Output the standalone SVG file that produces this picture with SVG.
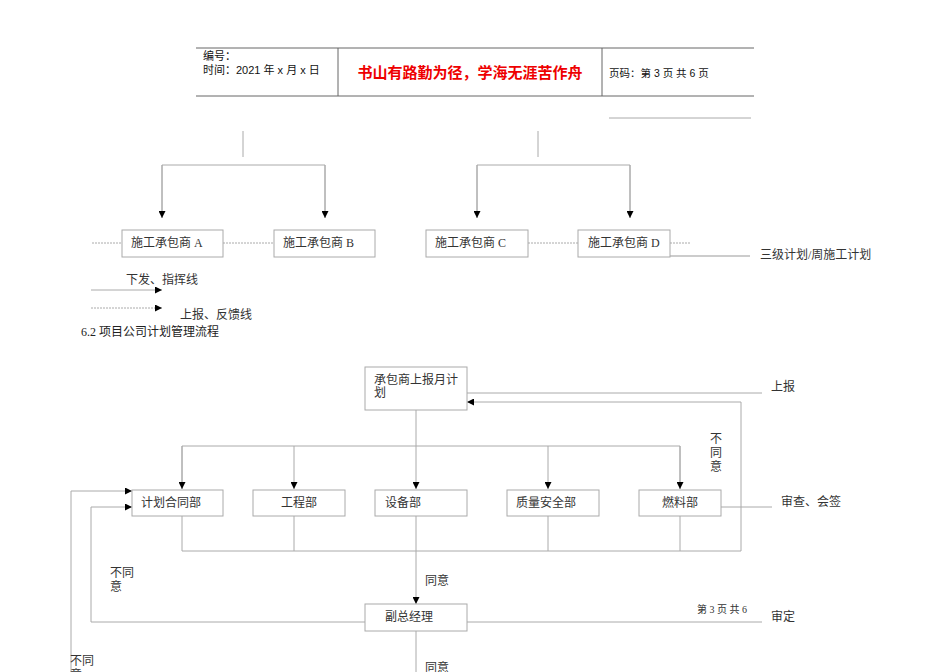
<svg xmlns="http://www.w3.org/2000/svg" width="950" height="672" viewBox="0 0 950 672">
<defs>
<marker id="ah" viewBox="0 0 10 10" refX="10" refY="5" markerWidth="7" markerHeight="7" orient="auto" markerUnits="userSpaceOnUse"><path d="M0,0 L10,5 L0,10 z" fill="#000"/></marker>
</defs>
<style>
text{font-family:"Liberation Serif","Noto Sans CJK SC",serif;font-size:12px;fill:#333}
.s{font-family:"Liberation Sans","Noto Sans CJK SC",sans-serif;font-size:11px;fill:#111}
.b{fill:#fff;stroke:#aaa;stroke-width:1}
.l{fill:none;stroke:#aaa;stroke-width:1}
.d{fill:none;stroke:#aaa;stroke-width:1;stroke-dasharray:2,1}
.h{fill:none;stroke:#666;stroke-width:1}
</style>
<rect width="950" height="672" fill="#fff"/>
<g id="header">
<path class="h" d="M196,48H754M196,96H754M338,48V96M602,48V96"/>
<text class="s" x="203" y="60">编号：</text>
<text class="s" x="203" y="74">时间：2021 年 x 月 x 日</text>
<text x="470" y="78" text-anchor="middle" style="font-family:'Liberation Sans','Noto Sans CJK SC',sans-serif;font-size:15px;font-weight:bold;fill:#e00">书山有路勤为径，学海无涯苦作舟</text>
<text class="s" x="609" y="77" style="font-size:10.5px">页码：第 3 页  共 6 页</text>
<path class="l" d="M609,118H751"/>
</g>
<g id="connectors">
<path class="l" d="M243,131V157M538,131V157"/>
<path class="l" d="M162,218V165H325V218" />
<path class="l" d="M162,165V218" marker-end="url(#ah)"/>
<path class="l" d="M325,165V218" marker-end="url(#ah)"/>
<path class="l" d="M477,218V165H630V218"/>
<path class="l" d="M477,165V218" marker-end="url(#ah)"/>
<path class="l" d="M630,165V218" marker-end="url(#ah)"/>
<path class="d" d="M92,243H122M223,243H274M528,243H578M670,243H690"/>
<path d="M670,256H750" stroke="#ccc" stroke-width="2" fill="none"/>
<path class="l" d="M91,290H162" marker-end="url(#ah)"/>
<path class="d" d="M91,308H162" marker-end="url(#ah)"/>
<path class="l" d="M467,393H762"/>
<path class="l" d="M741,551V402H467" marker-end="url(#ah)"/>
<path class="l" d="M416,410V489" marker-end="url(#ah)"/>
<path class="l" d="M182,489V446H680V489"/>
<path class="l" d="M182,446V489" marker-end="url(#ah)"/>
<path class="l" d="M294,446V489" marker-end="url(#ah)"/>
<path class="l" d="M548,446V489" marker-end="url(#ah)"/>
<path class="l" d="M680,446V489" marker-end="url(#ah)"/>
<path class="l" d="M721,507H772"/>
<path class="l" d="M182,516V551H741M294,516V551M548,516V551M680,516V551"/>
<path class="l" d="M416,516V604" marker-end="url(#ah)"/>
<path class="l" d="M365,622H91V507H132" marker-end="url(#ah)"/>
<path class="l" d="M467,622H762"/>
<path class="l" d="M71,672V491H132" marker-end="url(#ah)"/>
<path class="l" d="M416,631V672"/>
</g>
<g id="nA"><rect class="b" x="122" y="230" width="101" height="27"/><text x="131" y="247">施工承包商 A</text></g>
<g id="nB"><rect class="b" x="274" y="230" width="101" height="27"/><text x="283" y="247">施工承包商 B</text></g>
<g id="nC"><rect class="b" x="426" y="230" width="102" height="27"/><text x="435" y="247">施工承包商 C</text></g>
<g id="nD"><rect class="b" x="578" y="230" width="92" height="27"/><text x="588" y="247">施工承包商 D</text></g>
<g id="labels">
<text x="760" y="259">三级计划/周施工计划</text>
<text x="126" y="284">下发、指挥线</text>
<text x="180" y="319">上报、反馈线</text>
<text x="81" y="336" style="fill:#222">6.2 项目公司计划管理流程</text>
<text x="771" y="391">上报</text>
<text x="710" y="443">不</text><text x="710" y="457">同</text><text x="710" y="471">意</text>
<text x="781" y="506">审查、会签</text>
<text x="425" y="585">同意</text>
<text x="110" y="577">不同</text><text x="110" y="591">意</text>
<text x="697" y="613" style="font-size:10px">第 3 页 共 6</text>
<text x="771" y="621">审定</text>
<text x="70" y="665">不同</text><text x="70" y="679">意</text>
<text x="425" y="672">同意</text>
</g>
<g id="n1"><rect class="b" x="365" y="367" width="102" height="43"/><text x="374" y="384">承包商上报月计</text><text x="374" y="397">划</text></g>
<g id="n2"><rect class="b" x="132" y="490" width="91" height="26"/><text x="141" y="507">计划合同部</text></g>
<g id="n3"><rect class="b" x="253" y="490" width="92" height="26"/><text x="299" y="507" text-anchor="middle">工程部</text></g>
<g id="n4"><rect class="b" x="375" y="490" width="92" height="26"/><text x="385" y="507">设备部</text></g>
<g id="n5"><rect class="b" x="507" y="490" width="92" height="26"/><text x="516" y="507">质量安全部</text></g>
<g id="n6"><rect class="b" x="639" y="490" width="82" height="26"/><text x="680" y="507" text-anchor="middle">燃料部</text></g>
<g id="n7"><rect class="b" x="365" y="604" width="102" height="27"/><text x="385" y="621">副总经理</text></g>
</svg>
